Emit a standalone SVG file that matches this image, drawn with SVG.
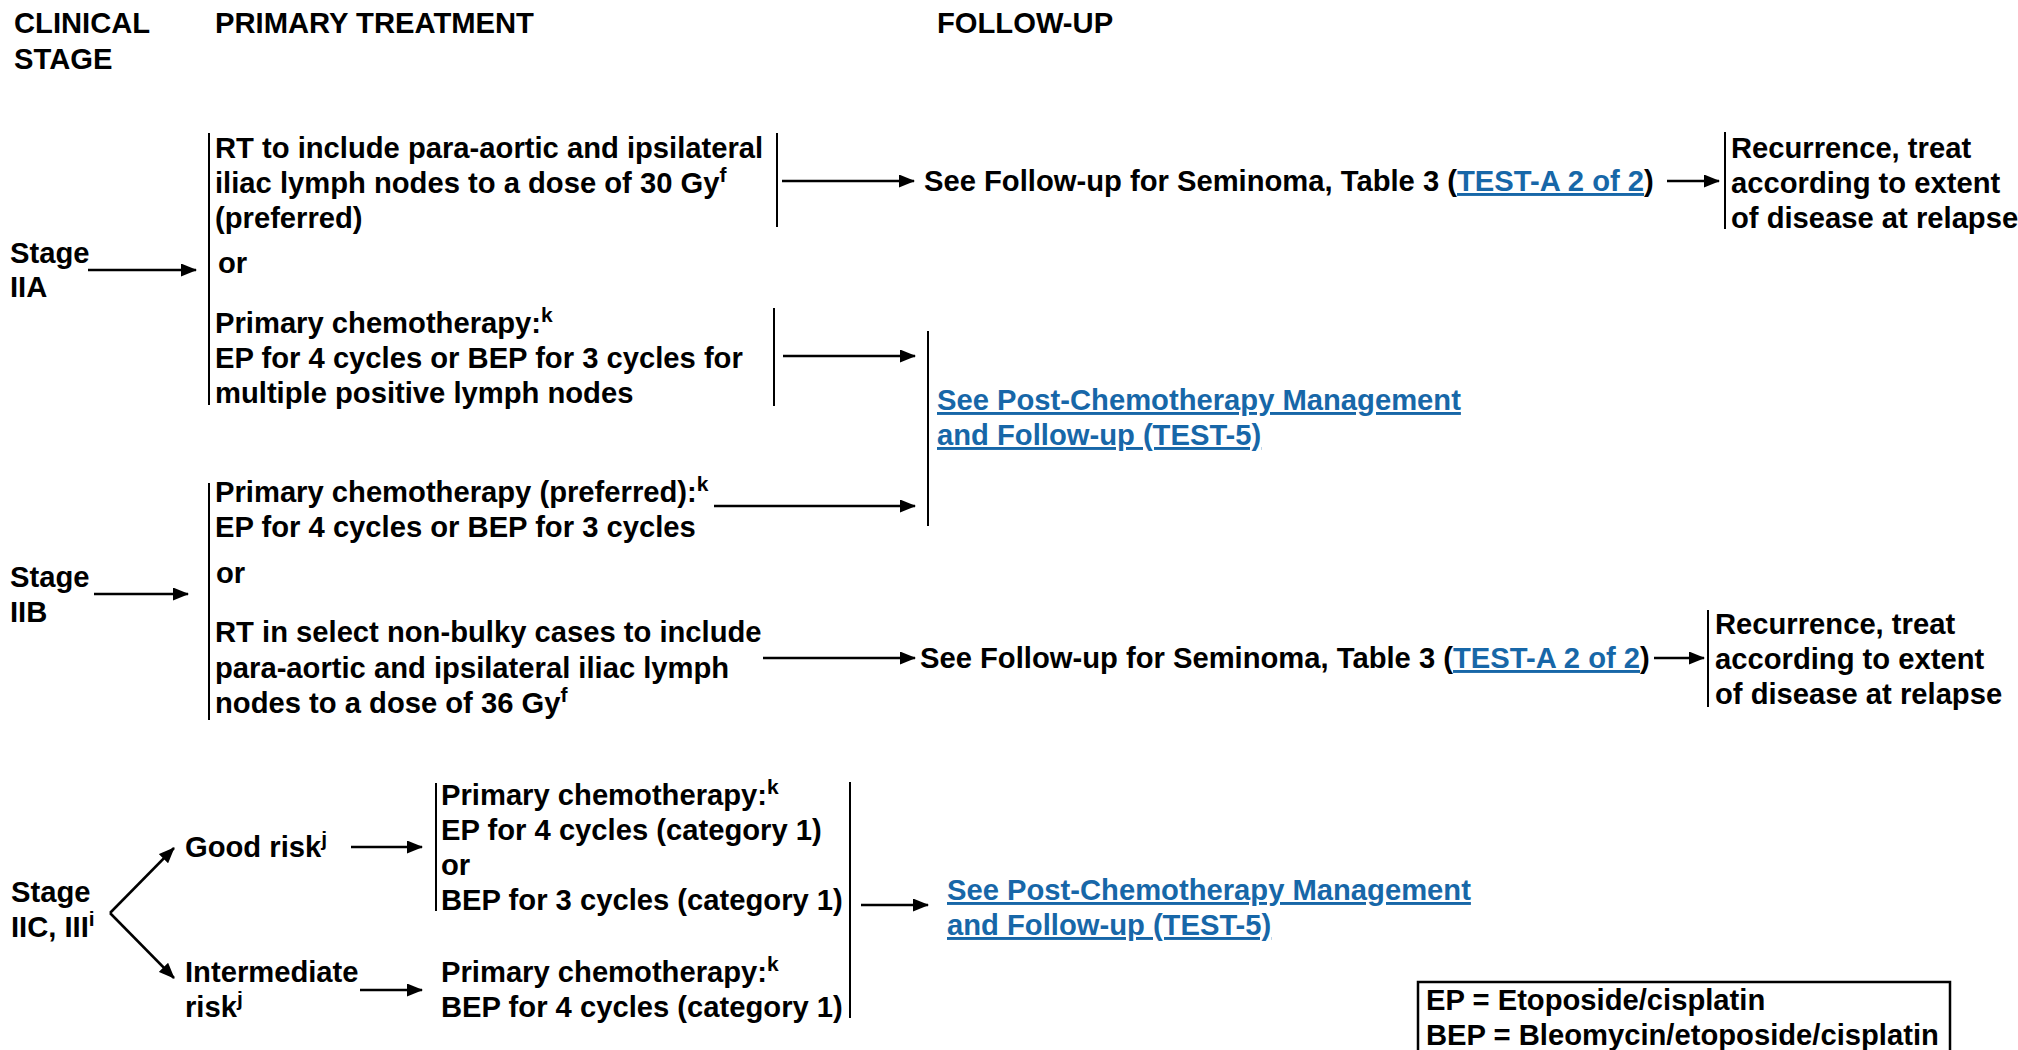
<svg xmlns="http://www.w3.org/2000/svg" width="2018" height="1050" viewBox="0 0 2018 1050">
<defs>
<style>
text{font-family:"Liberation Sans",Arial,sans-serif;font-weight:bold;font-size:29.2px;fill:#000}
.sup{font-size:21px}
.link{fill:#1767a8;text-decoration:underline}
.bar{stroke:#000;stroke-width:2;fill:none}
.arr{stroke:#000;stroke-width:2.5;fill:none;marker-end:url(#ah)}
</style>
<marker id="ah" markerUnits="userSpaceOnUse" markerWidth="16" markerHeight="13" refX="15" refY="6.5" orient="auto">
<path d="M0,0 L16,6.5 L0,13 z" fill="#000"/>
</marker>
</defs>
<rect width="2018" height="1050" fill="#fff"/>

<g id="headers">
<text x="14" y="33">CLINICAL</text>
<text x="14" y="69">STAGE</text>
<text x="215" y="33">PRIMARY TREATMENT</text>
<text x="937" y="33">FOLLOW-UP</text>
</g>

<g id="stage-iia">
<text x="10" y="263">Stage</text>
<text x="10" y="297">IIA</text>
</g>

<g id="iia-rt">
<line class="bar" x1="209" y1="133" x2="209" y2="405"/>
<text x="215" y="158">RT to include para-aortic and ipsilateral</text>
<text x="215" y="193">iliac lymph nodes to a dose of 30 Gy<tspan class="sup" dy="-11">f</tspan></text>
<text x="215" y="228">(preferred)</text>
<text x="218" y="273">or</text>
<line class="bar" x1="777" y1="133" x2="777" y2="227"/>
</g>

<g id="iia-chemo">
<text x="215" y="333">Primary chemotherapy:<tspan class="sup" dy="-11">k</tspan></text>
<text x="215" y="368">EP for 4 cycles or BEP for 3 cycles for</text>
<text x="215" y="403">multiple positive lymph nodes</text>
<line class="bar" x1="774" y1="308" x2="774" y2="406"/>
</g>

<g id="followup-1">
<text x="924" y="191">See Follow-up for Seminoma, Table 3 (<tspan class="link">TEST-A 2 of 2</tspan>)</text>
</g>

<g id="recurrence-1">
<line class="bar" x1="1725" y1="132" x2="1725" y2="229"/>
<text x="1731" y="158">Recurrence, treat</text>
<text x="1731" y="193">according to extent</text>
<text x="1731" y="228">of disease at relapse</text>
</g>

<g id="postchemo-1">
<line class="bar" x1="928" y1="331" x2="928" y2="526"/>
<text class="link" x="937" y="410">See Post-Chemotherapy Management</text>
<text class="link" x="937" y="445">and Follow-up (TEST-5)</text>
</g>

<g id="stage-iib">
<text x="10" y="587">Stage</text>
<text x="10" y="622">IIB</text>
</g>

<g id="iib-treatment">
<line class="bar" x1="209" y1="483" x2="209" y2="720"/>
<text x="215" y="502">Primary chemotherapy (preferred):<tspan class="sup" dy="-11">k</tspan></text>
<text x="215" y="537">EP for 4 cycles or BEP for 3 cycles</text>
<text x="216" y="583">or</text>
<text x="215" y="642">RT in select non-bulky cases to include</text>
<text x="215" y="678">para-aortic and ipsilateral iliac lymph</text>
<text x="215" y="713">nodes to a dose of 36 Gy<tspan class="sup" dy="-11">f</tspan></text>
</g>

<g id="followup-2">
<text x="920" y="668">See Follow-up for Seminoma, Table 3 (<tspan class="link">TEST-A 2 of 2</tspan>)</text>
</g>

<g id="recurrence-2">
<line class="bar" x1="1708" y1="610" x2="1708" y2="707"/>
<text x="1715" y="634">Recurrence, treat</text>
<text x="1715" y="669">according to extent</text>
<text x="1715" y="704">of disease at relapse</text>
</g>

<g id="stage-iic">
<text x="11" y="902">Stage</text>
<text x="11" y="937">IIC, III<tspan class="sup" dy="-11">i</tspan></text>
</g>

<g id="good-risk">
<text x="185" y="857">Good risk<tspan class="sup" dy="-11">j</tspan></text>
</g>

<g id="intermediate-risk">
<text x="185" y="982">Intermediate</text>
<text x="185" y="1017">risk<tspan class="sup" dy="-11">j</tspan></text>
</g>

<g id="good-treatment">
<line class="bar" x1="436" y1="783" x2="436" y2="911"/>
<text x="441" y="805">Primary chemotherapy:<tspan class="sup" dy="-11">k</tspan></text>
<text x="441" y="840">EP for 4 cycles (category 1)</text>
<text x="441" y="875">or</text>
<text x="441" y="910">BEP for 3 cycles (category 1)</text>
</g>

<g id="intermediate-treatment">
<text x="441" y="982">Primary chemotherapy:<tspan class="sup" dy="-11">k</tspan></text>
<text x="441" y="1017">BEP for 4 cycles (category 1)</text>
<line class="bar" x1="850" y1="782" x2="850" y2="1018"/>
</g>

<g id="postchemo-2">
<text class="link" x="947" y="900">See Post-Chemotherapy Management</text>
<text class="link" x="947" y="935">and Follow-up (TEST-5)</text>
</g>

<g id="legend">
<rect x="1418" y="982" width="532" height="80" fill="none" stroke="#000" stroke-width="2.5"/>
<text x="1426" y="1010">EP = Etoposide/cisplatin</text>
<text x="1426" y="1045">BEP = Bleomycin/etoposide/cisplatin</text>
</g>

<g id="connectors">
<line class="arr" x1="88" y1="270" x2="196" y2="270"/>
<line class="arr" x1="782" y1="181" x2="914" y2="181"/>
<line class="arr" x1="1667" y1="181" x2="1719" y2="181"/>
<line class="arr" x1="783" y1="356" x2="915" y2="356"/>
<line class="arr" x1="714" y1="506" x2="915" y2="506"/>
<line class="arr" x1="94" y1="594" x2="188" y2="594"/>
<line class="arr" x1="763" y1="658" x2="915" y2="658"/>
<line class="arr" x1="1654" y1="658" x2="1704" y2="658"/>
<line class="arr" x1="110" y1="913" x2="174" y2="848"/>
<line class="arr" x1="110" y1="913" x2="174" y2="978"/>
<line class="arr" x1="351" y1="847" x2="422" y2="847"/>
<line class="arr" x1="360" y1="990" x2="422" y2="990"/>
<line class="arr" x1="861" y1="905" x2="928" y2="905"/>
</g>
</svg>
